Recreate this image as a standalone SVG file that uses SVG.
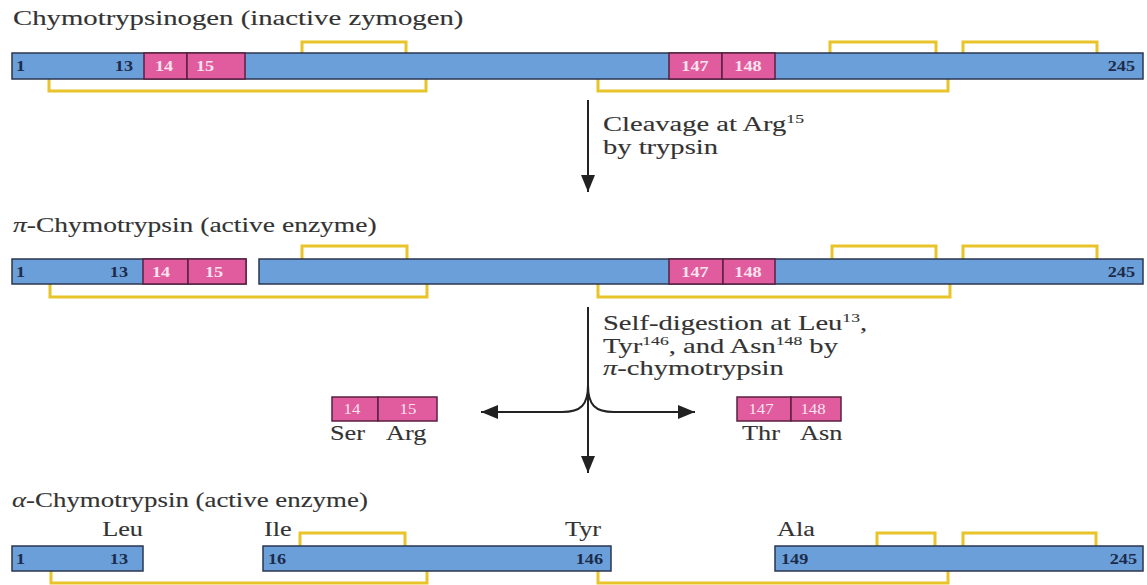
<svg xmlns="http://www.w3.org/2000/svg" width="1147" height="585" viewBox="0 0 1147 585">
<style>
.bg{fill:#ffffff}
.bar{fill:#6b9fd9;stroke:#2b3650;stroke-width:1.5}
.pk{fill:#e05c9e;stroke:#5a2040;stroke-width:1.5}
.ss{fill:none;stroke:#e8c42a;stroke-width:3}
.t{font-family:"Liberation Serif",serif;font-size:21px;fill:#333333;stroke:#333333;stroke-width:0.12}
.n{font-family:"Liberation Serif",serif;font-size:14px;font-weight:bold;fill:#1c2b4a}
.w{font-family:"Liberation Serif",serif;font-size:14px;font-weight:bold;fill:#fbe3ee}
.sup{font-size:13px}
.ln{fill:none;stroke:#222222;stroke-width:2}
</style>
<defs>
<marker id="ah" markerUnits="userSpaceOnUse" markerWidth="18" markerHeight="14" refX="17" refY="7" orient="auto">
<path d="M0,0 L17,7 L0,14 z" fill="#222222"/>
</marker>
</defs>
<rect class="bg" x="0" y="0" width="1147" height="585"/>

<!-- Titles -->
<text class="t" transform="translate(13,25) scale(1.37,1)">Chymotrypsinogen (inactive zymogen)</text>
<text class="t" transform="translate(13,232) scale(1.31,1)"><tspan font-style="italic">π</tspan>-Chymotrypsin (active enzyme)</text>
<text class="t" transform="translate(12,507) scale(1.28,1)"><tspan font-style="italic">α</tspan>-Chymotrypsin (active enzyme)</text>

<!-- Row 1: Chymotrypsinogen -->
<g id="chymotrypsinogen">
<polyline class="ss" points="302,53 302,42 406,42 406,53"/>
<polyline class="ss" points="830,53 830,42 936,42 936,53"/>
<polyline class="ss" points="963,53 963,42 1097,42 1097,53"/>
<polyline class="ss" points="49,79 49,91 426,91 426,79"/>
<polyline class="ss" points="598,79 598,91 948,91 948,79"/>
<rect class="bar" x="12" y="53" width="1131" height="26"/>
<rect class="pk" x="144" y="53" width="43" height="26"/>
<rect class="pk" x="187" y="53" width="58" height="26"/>
<rect class="pk" x="669" y="53" width="53" height="26"/>
<rect class="pk" x="722" y="53" width="53" height="26"/>
<text class="n" transform="translate(16,71) scale(1.3,1)">1</text>
<text class="n" text-anchor="end" transform="translate(133,71) scale(1.3,1)">13</text>
<text class="w" text-anchor="middle" transform="translate(164,71) scale(1.3,1)">14</text>
<text class="w" text-anchor="middle" transform="translate(205,71) scale(1.3,1)">15</text>
<text class="w" text-anchor="middle" transform="translate(695,71) scale(1.3,1)">147</text>
<text class="w" text-anchor="middle" transform="translate(748,71) scale(1.3,1)">148</text>
<text class="n" text-anchor="end" transform="translate(1135,71) scale(1.3,1)">245</text>
</g>

<!-- Row 2: pi-chymotrypsin -->
<g id="pi-chymotrypsin-a">
<polyline class="ss" points="50,284 50,297 427,297 427,284"/>
<rect class="bar" x="12" y="259" width="234" height="25"/>
<rect class="pk" x="143" y="259" width="45" height="25"/>
<rect class="pk" x="188" y="259" width="58" height="25"/>
<text class="n" transform="translate(16,277) scale(1.3,1)">1</text>
<text class="n" text-anchor="end" transform="translate(128,277) scale(1.3,1)">13</text>
<text class="w" text-anchor="middle" transform="translate(161,277) scale(1.3,1)">14</text>
<text class="w" text-anchor="middle" transform="translate(214,277) scale(1.3,1)">15</text>
</g>
<g id="pi-chymotrypsin-b">
<polyline class="ss" points="302,259 302,246 407,246 407,259"/>
<polyline class="ss" points="832,259 832,246 936,246 936,259"/>
<polyline class="ss" points="963,259 963,246 1097,246 1097,259"/>
<polyline class="ss" points="598,284 598,297 950,297 950,284"/>
<rect class="bar" x="259" y="259" width="884" height="25"/>
<rect class="pk" x="669" y="259" width="54" height="25"/>
<rect class="pk" x="723" y="259" width="52" height="25"/>
<text class="w" text-anchor="middle" transform="translate(695,277) scale(1.3,1)">147</text>
<text class="w" text-anchor="middle" transform="translate(748,277) scale(1.3,1)">148</text>
<text class="n" text-anchor="end" transform="translate(1135,277) scale(1.3,1)">245</text>
</g>

<!-- Released dipeptides -->
<g id="dipeptide-ser-arg">
<rect class="pk" x="332" y="397" width="46" height="24"/>
<rect class="pk" x="378" y="397" width="59" height="24"/>
<text class="w" text-anchor="middle" transform="translate(352,414) scale(1.2,1)" style="font-weight:normal">14</text>
<text class="w" text-anchor="middle" transform="translate(408,414) scale(1.2,1)" style="font-weight:normal">15</text>
<text class="t" transform="translate(330,440) scale(1.25,1)">Ser</text>
<text class="t" transform="translate(386,440) scale(1.25,1)">Arg</text>
</g>
<g id="dipeptide-thr-asn">
<rect class="pk" x="737" y="397" width="54" height="24"/>
<rect class="pk" x="791" y="397" width="50" height="24"/>
<text class="w" text-anchor="middle" transform="translate(761,414) scale(1.2,1)" style="font-weight:normal">147</text>
<text class="w" text-anchor="middle" transform="translate(813,414) scale(1.2,1)" style="font-weight:normal">148</text>
<text class="t" transform="translate(742,440) scale(1.25,1)">Thr</text>
<text class="t" transform="translate(800,440) scale(1.25,1)">Asn</text>
</g>

<!-- Row 3: alpha-chymotrypsin -->
<g id="alpha-chymotrypsin-a">
<polyline class="ss" points="51,571 51,583 427,583 427,571"/>
<rect class="bar" x="12" y="546" width="131" height="25"/>
<text class="n" transform="translate(16,564) scale(1.3,1)">1</text>
<text class="n" text-anchor="end" transform="translate(128,564) scale(1.3,1)">13</text>
<text class="t" text-anchor="end" transform="translate(143,536) scale(1.25,1)">Leu</text>
</g>
<g id="alpha-chymotrypsin-b">
<polyline class="ss" points="300,546 300,533 405,533 405,546"/>
<polyline class="ss" points="598,571 598,583 948,583 948,571"/>
<rect class="bar" x="263" y="546" width="348" height="25"/>
<text class="n" transform="translate(268,564) scale(1.3,1)">16</text>
<text class="n" text-anchor="end" transform="translate(603,564) scale(1.3,1)">146</text>
<text class="t" transform="translate(264,536) scale(1.25,1)">Ile</text>
<text class="t" transform="translate(565,536) scale(1.25,1)">Tyr</text>
</g>
<g id="alpha-chymotrypsin-c">
<polyline class="ss" points="877,546 877,533 935,533 935,546"/>
<polyline class="ss" points="963,546 963,533 1096,533 1096,546"/>
<rect class="bar" x="775" y="546" width="368" height="25"/>
<text class="n" transform="translate(781,564) scale(1.3,1)">149</text>
<text class="n" text-anchor="end" transform="translate(1137,564) scale(1.3,1)">245</text>
<text class="t" transform="translate(777,536) scale(1.25,1)">Ala</text>
</g>

<!-- Connectors -->
<g id="connectors">
<path class="ln" d="M588,100 L588,192" marker-end="url(#ah)"/>
<path class="ln" d="M588,307 L588,473" marker-end="url(#ah)"/>
<path class="ln" d="M588,385 C588,405 581,412 562,412 L481,412" marker-end="url(#ah)"/>
<path class="ln" d="M588,385 C588,405 595,412 614,412 L695,412" marker-end="url(#ah)"/>
<text class="t" transform="translate(603,131) scale(1.36,1)">Cleavage at Arg<tspan class="sup" dy="-8">15</tspan></text>
<text class="t" transform="translate(603,154) scale(1.36,1)">by trypsin</text>
<text class="t" transform="translate(603,330) scale(1.36,1)">Self-digestion at Leu<tspan class="sup" dy="-8">13</tspan><tspan dy="8">,</tspan></text>
<text class="t" transform="translate(603,353) scale(1.36,1)">Tyr<tspan class="sup" dy="-8">146</tspan><tspan dy="8">, and Asn</tspan><tspan class="sup" dy="-8">148</tspan><tspan dy="8"> by</tspan></text>
<text class="t" transform="translate(603,375) scale(1.36,1)"><tspan font-style="italic">π</tspan>-chymotrypsin</text>
</g>
</svg>
